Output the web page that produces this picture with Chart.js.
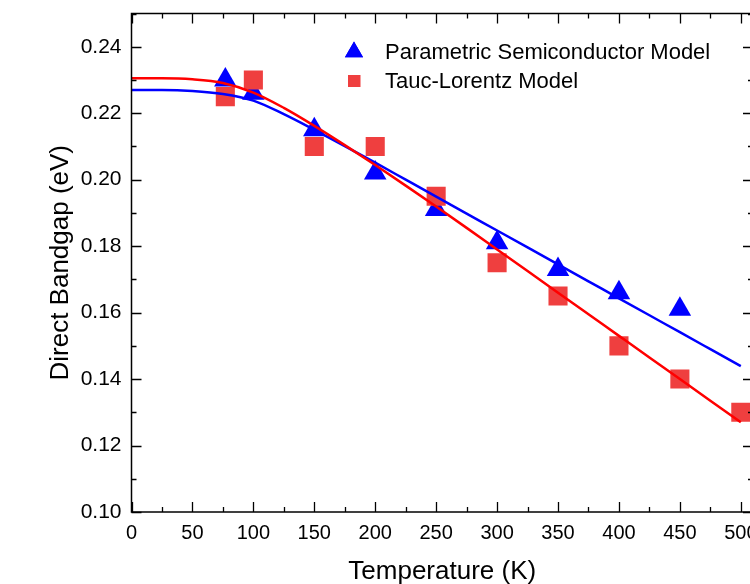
<!DOCTYPE html>
<html>
<head>
<meta charset="utf-8">
<script src="https://cdn.jsdelivr.net/npm/chart.js@4.4.1/dist/chart.umd.min.js"></script>
<style>
  html, body { margin: 0; padding: 0; background: #fff; overflow: hidden; }
  #wrap { width: 770px; height: 587px; }
</style>
</head>
<body>
<div id="wrap"><canvas id="myChart" width="770" height="587"></canvas></div>
<script>
// measured points (K, eV)
const tempPSM = [77, 100, 150, 200, 250, 300, 350, 400, 450]
const gapPSM = [0.230, 0.226, 0.215, 0.202, 0.191, 0.181, 0.173, 0.166, 0.161]
const tempTL = [77, 100, 150, 200, 250, 300, 350, 400, 450, 500]
const gapTL = [0.225, 0.230, 0.210, 0.210, 0.195, 0.175, 0.165, 0.150, 0.140, 0.130]

// fit curves, every 25 K
const fitTemp = [0, 25, 50, 75, 100, 125, 150, 175, 200, 225, 250, 275, 300, 325, 350, 375, 400, 425, 450, 475, 500]
const fitPSM = [0.2270, 0.2270, 0.2267, 0.2258, 0.2238, 0.2197, 0.2150, 0.2101, 0.2051, 0.2000, 0.1949, 0.1898, 0.1847, 0.1796, 0.1745, 0.1694, 0.1643, 0.1592, 0.1541, 0.1490, 0.1439]
const fitTL = [0.2305, 0.2305, 0.2302, 0.2291, 0.2262, 0.2216, 0.2162, 0.2104, 0.2044, 0.1982, 0.1919, 0.1855, 0.1790, 0.1725, 0.1660, 0.1595, 0.1530, 0.1465, 0.1400, 0.1335, 0.1270]

const legendLabels = ["Parametric Semiconductor Model", "Tauc-Lorentz Model"]
const xTitle = "Temperature (K)"
const yTitle = "Direct Bandgap (eV)"
const xStep = 50
const yStep = 0.02

const FONT = "'Liberation Sans', Arial, sans-serif"
const BLUE = "#0000ff"
const RED = "#ff0000"
const RED_PT = "#ef3f3f"

const pts = (xs, ys) => xs.map((v, i) => ({ x: v, y: ys[i] }))

// khung + vạch chia hướng vào trong
const frameTicks = {
  id: "frameTicks",
  afterDraw(chart) {
    const { ctx, chartArea: a, scales: { x, y } } = chart
    ctx.save()
    ctx.strokeStyle = "#000"
    ctx.lineWidth = 1.5
    ctx.strokeRect(a.left, a.top, a.right - a.left, a.bottom - a.top)
    ctx.lineWidth = 1.3
    ctx.beginPath()
    x.ticks.forEach(t => {
      [[t.value, 10], [t.value + xStep / 2, 5]].forEach(([v, len]) => {
        if (v > x.max) return
        const px = Math.round(x.getPixelForValue(v)) + 0.5
        ctx.moveTo(px, a.bottom); ctx.lineTo(px, a.bottom - len)
        ctx.moveTo(px, a.top); ctx.lineTo(px, a.top + len)
      })
    })
    y.ticks.forEach(t => {
      [[t.value, 10], [t.value + yStep / 2, 5]].forEach(([v, len]) => {
        if (v > y.max + 1e-9) return
        const py = Math.round(y.getPixelForValue(v)) + 0.5
        ctx.moveTo(a.left, py); ctx.lineTo(a.left + len, py)
        ctx.moveTo(a.right, py); ctx.lineTo(a.right - len, py)
      })
    })
    ctx.stroke()
    ctx.restore()
  }
}

// chú thích bên trong vùng vẽ
const insideLegend = {
  id: "insideLegend",
  afterDraw(chart) {
    const ctx = chart.ctx
    ctx.save()
    ctx.fillStyle = BLUE
    Chart.helpers.drawPoint(ctx, { pointStyle: "triangle", radius: 10.5, rotation: 0, borderWidth: 0 }, 354, 52)
    ctx.fill()
    ctx.fillStyle = RED_PT
    ctx.fillRect(348, 75, 12.5, 12)
    ctx.fillStyle = "#000"
    ctx.font = "22px " + FONT
    ctx.textBaseline = "alphabetic"
    ctx.fillText(legendLabels[0], 385, 59)
    ctx.fillText(legendLabels[1], 385, 88)
    ctx.restore()
  }
}

const myChart = new Chart("myChart", {
  type: "scatter",
  data: {
    datasets: [{
        label: legendLabels[1] + " fit",
        data: pts(fitTemp, fitTL),
        showLine: true,
        borderColor: RED,
        borderWidth: 2.5,
        pointRadius: 0,
        cubicInterpolationMode: "monotone",
        order: 0
      }, {
        label: legendLabels[0] + " fit",
        data: pts(fitTemp, fitPSM),
        showLine: true,
        borderColor: BLUE,
        borderWidth: 2.5,
        pointRadius: 0,
        cubicInterpolationMode: "monotone",
        order: 1
      }, {
        label: legendLabels[1],
        data: pts(tempTL, gapTL),
        pointStyle: "rect",
        pointRadius: 13.5,
        backgroundColor: RED_PT,
        borderWidth: 0,
        order: 2
      }, {
        label: legendLabels[0],
        data: pts(tempPSM, gapPSM),
        pointStyle: "triangle",
        pointRadius: 13,
        backgroundColor: BLUE,
        borderWidth: 0,
        order: 3
      }
    ]
  },
  options: {
    responsive: false,
    animation: false,
    events: [],
    devicePixelRatio: 1,
    layout: { padding: { left: 45, top: 12, right: 17, bottom: 0 } },
    plugins: {
      legend: { display: false },
      tooltip: { enabled: false }
    },
    scales: {
      x: {
        type: "linear",
        min: 0,
        max: 510,
        grid: { display: false, drawTicks: false },
        border: { display: false },
        ticks: {
          stepSize: xStep,
          includeBounds: false,
          padding: 9,
          color: "#000",
          maxRotation: 0,
          autoSkip: false,
          font: { family: FONT, size: 20 }
        },
        title: { display: true, text: xTitle, color: "#000", padding: 0, font: { family: FONT, size: 26 } },
        afterFit(s) { s.height = 75; s.paddingLeft = 0; s.paddingRight = 0 }
      },
      y: {
        type: "linear",
        min: 0.10,
        max: 0.25,
        grid: { display: false, drawTicks: false },
        border: { display: false },
        ticks: {
          stepSize: yStep,
          includeBounds: false,
          padding: 10,
          color: "#000",
          font: { family: FONT, size: 21 },
          callback: v => v.toFixed(2)
        },
        title: { display: true, text: yTitle, color: "#000", padding: 0, font: { family: FONT, size: 26 } },
        afterFit(s) { s.width = 86.5; s.paddingTop = 0; s.paddingBottom = 0 }
      }
    }
  },
  plugins: [frameTicks, insideLegend]
})
</script>
</body>
</html>
